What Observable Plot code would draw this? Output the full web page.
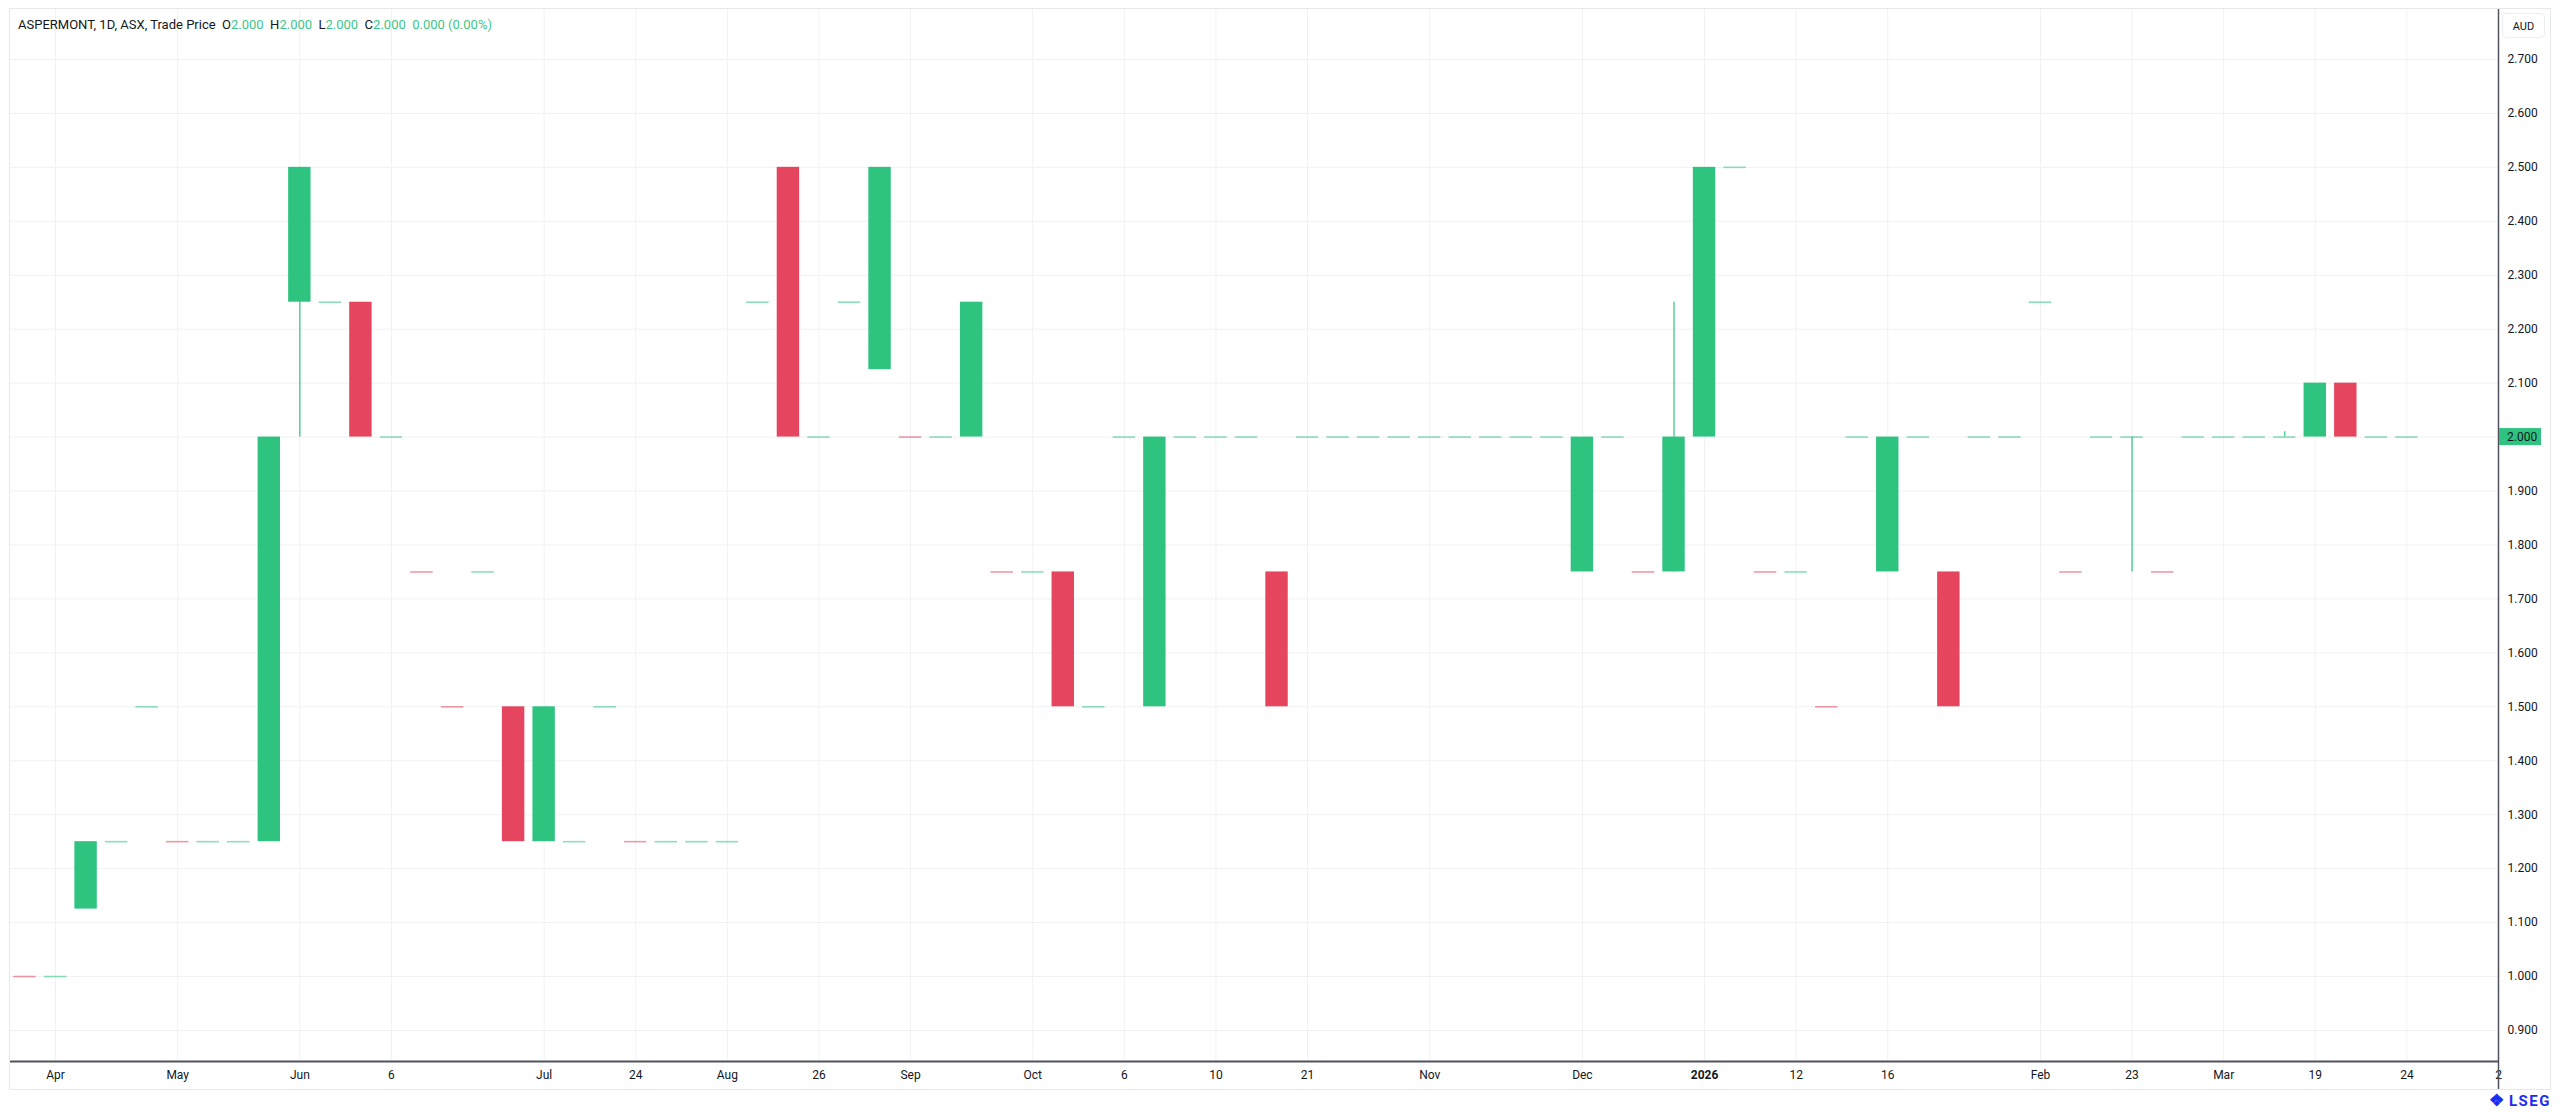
<!DOCTYPE html>
<div id="chart">
	<div id="pane"></div>
	<div id="plot"></div>
	<div id="legend">ASPERMONT, 1D, ASX, Trade Price&nbsp;&nbsp;O<span class="v">2.000</span>&nbsp;&nbsp;H<span class="v">2.000</span>&nbsp;&nbsp;L<span class="v">2.000</span>&nbsp;&nbsp;C<span class="v">2.000</span>&nbsp;&nbsp;<span class="v">0.000 (0.00%)</span></div>
	<div id="currency">AUD</div>
	<div id="brand"><span class="mark">❖</span> LSEG</div>
</div>
<script src="https://cdn.jsdelivr.net/npm/d3@7"></script>
<script src="https://cdn.jsdelivr.net/npm/@observablehq/plot@0.6"></script>
<script>

// daily bars, one per traded session (bar index on x)
const opens = [
	1, 1, 1.125, 1.25, 1.5, 1.25, 1.25, 1.25, 1.25, 2.5,
	2.25, 2.25, 2, 1.75, 1.5, 1.75, 1.5, 1.5, 1.25, 1.5,
	1.25, 1.25, 1.25, 1.25, 2.25, 2.5, 2, 2.25, 2.125, 2,
	2, 2, 1.75, 1.75, 1.75, 1.5, 2, 1.5, 2, 2,
	2, 1.75, 2, 2, 2, 2, 2, 2, 2, 2,
	2, 1.75, 2, 1.75, 1.75, 2, 2.5, 1.75, 1.75, 1.5,
	2, 1.75, 2, 1.75, 2, 2, 2.25, 1.75, 2, 2,
	1.75, 2, 2, 2, 2, 2, 2.1, 2, 2
];
const highs = [
	1, 1, 1.25, 1.25, 1.5, 1.25, 1.25, 1.25, 2, 2.5,
	2.25, 2.25, 2, 1.75, 1.5, 1.75, 1.5, 1.5, 1.25, 1.5,
	1.25, 1.25, 1.25, 1.25, 2.25, 2.5, 2, 2.25, 2.5, 2,
	2, 2.25, 1.75, 1.75, 1.75, 1.5, 2, 2, 2, 2,
	2, 1.75, 2, 2, 2, 2, 2, 2, 2, 2,
	2, 2, 2, 1.75, 2.25, 2.5, 2.5, 1.75, 1.75, 1.5,
	2, 2, 2, 1.75, 2, 2, 2.25, 1.75, 2, 2,
	1.75, 2, 2, 2, 2.01, 2.1, 2.1, 2, 2
];
const lows = [
	1, 1, 1.125, 1.25, 1.5, 1.25, 1.25, 1.25, 1.25, 2,
	2.25, 2, 2, 1.75, 1.5, 1.75, 1.25, 1.25, 1.25, 1.5,
	1.25, 1.25, 1.25, 1.25, 2.25, 2, 2, 2.25, 2.125, 2,
	2, 2, 1.75, 1.75, 1.5, 1.5, 2, 1.5, 2, 2,
	2, 1.5, 2, 2, 2, 2, 2, 2, 2, 2,
	2, 1.75, 2, 1.75, 1.75, 2, 2.5, 1.75, 1.75, 1.5,
	2, 1.75, 2, 1.5, 2, 2, 2.25, 1.75, 2, 1.75,
	1.75, 2, 2, 2, 2, 2, 2, 2, 2
];
const closes = [
	1, 1, 1.25, 1.25, 1.5, 1.25, 1.25, 1.25, 2, 2.25,
	2.25, 2, 2, 1.75, 1.5, 1.75, 1.25, 1.25, 1.25, 1.5,
	1.25, 1.25, 1.25, 1.25, 2.25, 2, 2, 2.25, 2.5, 2,
	2, 2.25, 1.75, 1.75, 1.5, 1.5, 2, 2, 2, 2,
	2, 1.5, 2, 2, 2, 2, 2, 2, 2, 2,
	2, 2, 2, 1.75, 2, 2.5, 2.5, 1.75, 1.75, 1.5,
	2, 2, 2, 1.5, 2, 2, 2.25, 1.75, 2, 2,
	1.75, 2, 2, 2, 2, 2.1, 2, 2, 2
];
const priorClose = 1.25; // close before the first visible bar (first bar is drawn red)

const tickBars = [1, 5, 9, 12, 17, 20, 23, 26, 29, 33, 36, 39, 42, 46, 51, 55, 58, 61, 66, 69, 72, 75, 78, 81];
const tickLabels = ['Apr', 'May', 'Jun', '6', 'Jul', '24', 'Aug', '26', 'Sep', 'Oct', '6', '10', '21', 'Nov', 'Dec', '2026', '12', '16', 'Feb', '23', 'Mar', '19', '24', '2'];
const priceTicks = [0.9, 1.0, 1.1, 1.2, 1.3, 1.4, 1.5, 1.6, 1.7, 1.8, 1.9, 2.0, 2.1, 2.2, 2.3, 2.4, 2.5, 2.6, 2.7];

const up = '#2ec480';
const down = '#e5455f';
const gridColor = '#f0f1f3';
const halfBody = 0.367;

let rows = opens.map((o, i) => ({
	i: i, o: o, h: highs[i], l: lows[i], c: closes[i],
	color: closes[i] >= (i == 0 ? priorClose : closes[i - 1]) ? up : down
}));
let bodies = rows.filter((d) => d.o != d.c);
let dojis = rows.filter((d) => d.o == d.c);
let wicks = rows.filter((d) => d.h > Math.max(d.o, d.c) || d.l < Math.min(d.o, d.c));

const lastClose = closes[closes.length - 1];
const xDomain = [-0.475, 81.0];
const yDomain = [0.8425, 2.7926];
const labelOf = new Map(tickBars.map((b, k) => [b, tickLabels[k]]));

const plot = Plot.plot({
	width: 2560,
	height: 1119,
	marginTop: 9,
	marginRight: 62,
	marginBottom: 58,
	marginLeft: 10,
	style: { fontFamily: 'Roboto, sans-serif', fontSize: '12px', color: '#131722', background: 'transparent' },
	x: { type: 'linear', domain: xDomain, axis: null, label: null },
	y: { domain: yDomain, axis: null, label: null },
	marks: [
		Plot.gridY(priceTicks, { stroke: gridColor, strokeOpacity: 1 }),
		Plot.gridX(tickBars, { stroke: gridColor, strokeOpacity: 1 }),
		Plot.ruleX(wicks, { x: 'i', y1: 'l', y2: 'h', stroke: 'color', strokeWidth: 1.2 }),
		Plot.rect(bodies, { x1: (d) => d.i - halfBody, x2: (d) => d.i + halfBody, y1: 'o', y2: 'c', fill: 'color' }),
		Plot.ruleY(dojis, { y: 'c', x1: (d) => d.i - halfBody, x2: (d) => d.i + halfBody, stroke: 'color', strokeOpacity: 0.55, strokeWidth: 1.6 }),
		Plot.axisX(tickBars.filter((b) => labelOf.get(b) != '2026'), { label: null, tickSize: 0, tickPadding: 9, tickFormat: (b) => labelOf.get(b), fill: '#131722' }),
		Plot.axisX(tickBars.filter((b) => labelOf.get(b) == '2026'), { label: null, tickSize: 0, tickPadding: 9, tickFormat: (b) => labelOf.get(b), fill: '#131722', fontWeight: 'bold' }),
		Plot.axisY(priceTicks.filter((p) => p != lastClose), { label: null, anchor: 'right', tickSize: 0, tickPadding: 9, tickFormat: d3.format('.3f'), fill: '#131722' }),
		Plot.ruleY([yDomain[0]], { stroke: '#50535e', strokeWidth: 2 }),
		Plot.ruleX([xDomain[1]], { y1: yDomain[1], y2: yDomain[0] - 0.052, stroke: '#50535e', strokeWidth: 1.5 }),
	],
});

document.querySelector('#plot').append(plot);

// last price tag on the price scale
const ty = plot.scale('y').apply(lastClose);
const tx = plot.scale('x').apply(xDomain[1]);
const svg = d3.select(plot);
svg.append('rect').attr('x', tx + 1).attr('y', ty - 8.5).attr('width', 42).attr('height', 17).attr('fill', up);
svg.append('text').attr('x', tx + 9).attr('y', ty).attr('dy', '0.35em').attr('text-anchor', 'start')
	.attr('font-size', 12).attr('fill', '#131722').text(d3.format('.3f')(lastClose));

</script>
<style>

html, body {
	margin: 0;
	background: #ffffff;
}

#chart {
	position: relative;
	width: 2560px;
	height: 1119px;
	overflow: hidden;
	font-family: Roboto, sans-serif;
}

#plot {
	position: absolute;
	left: 0;
	top: 0;
}

#pane {
	position: absolute;
	left: 9px;
	top: 8px;
	width: 2540px;
	height: 1080px;
	border: 1px solid #e6e8ec;
}

#legend {
	position: absolute;
	left: 18px;
	top: 17px;
	font-size: 13px;
	color: #131722;
	white-space: nowrap;
}

#legend .v {
	color: #3cc688;
}

#currency {
	position: absolute;
	left: 2502px;
	top: 13px;
	width: 43px;
	height: 25px;
	line-height: 25px;
	text-align: center;
	font-size: 11px;
	color: #131722;
	border: 1px solid #eceef2;
	border-radius: 4px;
	box-sizing: border-box;
}

#brand {
	position: absolute;
	right: 9px;
	top: 1090px;
	font-size: 15px;
	font-weight: bold;
	letter-spacing: 1.5px;
	color: #1d2cf5;
}

#brand .mark {
	font-size: 17px;
	letter-spacing: 0;
}

</style>
